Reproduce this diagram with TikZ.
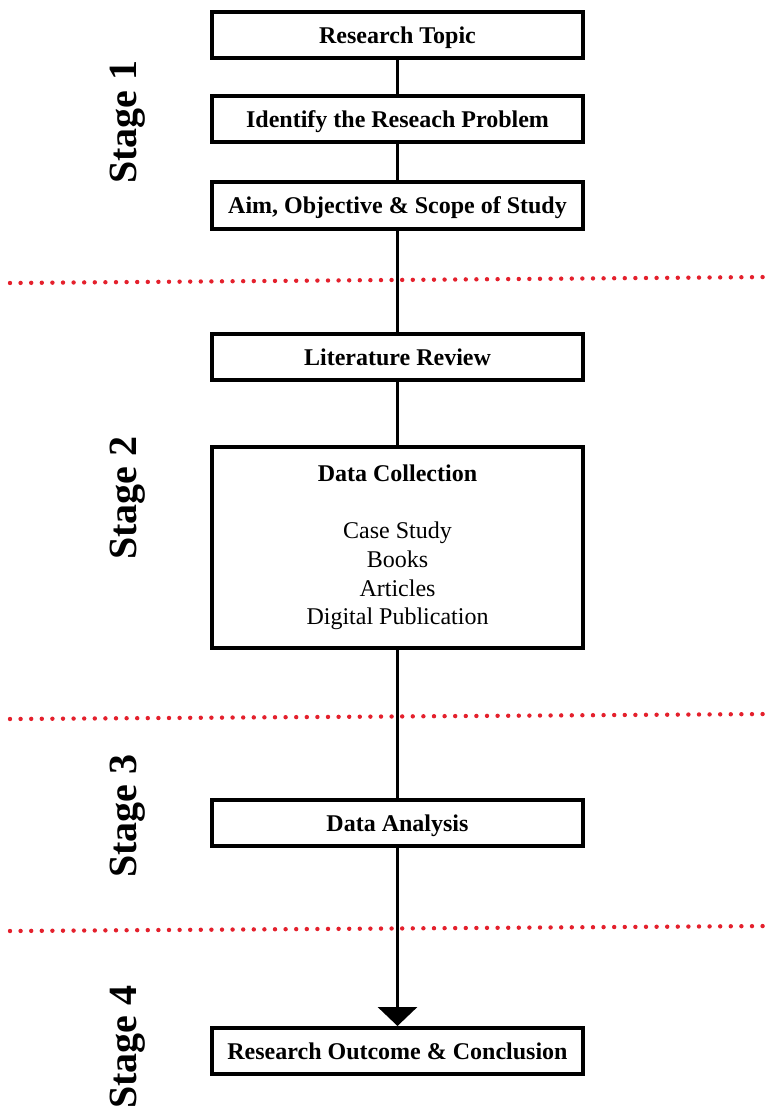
\documentclass[tikz,border=0pt]{standalone}
\usepackage{fontspec}
\setmainfont{Liberation Serif}
\usetikzlibrary{arrows.meta}
\definecolor{dotred}{RGB}{228,32,44}
\begin{document}
\begin{tikzpicture}[x=1pt,y=-1pt,
  box/.style={draw=black,line width=4pt,minimum width=371pt,minimum height=46pt,
    inner sep=0pt,align=center,font=\fontsize{24}{28.7}\selectfont\bfseries},
  onebox/.style={box,text depth=0pt},
  link/.style={line width=2.5pt,draw=black},
  sep/.style={draw=dotred,line width=4.4pt,line cap=round,dash pattern=on 0pt off 10.6pt},
  stagelbl/.style={rotate=90,font=\fontsize{40}{44}\selectfont\bfseries,inner sep=0pt}]
\useasboundingbox (0,0) rectangle (777,1110);
% boxes
\node[onebox] (rt) at (397.5,35) {Research Topic};
\node[onebox] (id) at (397.5,119.5) {Identify the Reseach Problem};
\node[onebox] (aim) at (397.5,205.5) {Aim, Objective \& Scope of Study};
\node[onebox] (lr) at (397.5,357) {Literature Review};
\node[box,minimum height=201pt] (dc) at (397.5,547.5)
  {Data Collection\\[28.7pt]\mdseries Case Study\\\mdseries Books\\\mdseries Articles\\\mdseries Digital Publication};
\node[onebox] (da) at (397.5,823) {Data Analysis};
\node[onebox] (ro) at (397.5,1051) {Research Outcome \& Conclusion};
% connectors
\draw[link] (rt) -- (id);
\draw[link] (id) -- (aim);
\draw[link,line width=3pt] (aim) -- (lr);
\draw[link,line width=3pt] (lr) -- (dc);
\draw[link,line width=3pt] (dc) -- (da);
\draw[link,line width=3.5pt,-{Triangle[width=39pt,length=19pt]}] (da) -- (ro);
% separators
\coordinate (s1a) at (10,283); \coordinate (s1b) at (772,277);
\coordinate (s2a) at (10,719); \coordinate (s2b) at (772,714);
\coordinate (s3a) at (10,931); \coordinate (s3b) at (772,926);
\draw[sep] (s1a) -- (s1b);
\draw[sep] (s2a) -- (s2b);
\draw[sep] (s3a) -- (s3b);
% stage labels
\node[stagelbl] (st1) at (128,122) {Stage 1};
\node[stagelbl] (st2) at (128,498) {Stage 2};
\node[stagelbl] (st3) at (128,816) {Stage 3};
\node[stagelbl] (st4) at (128,1047) {Stage 4};
\end{tikzpicture}
\end{document}
